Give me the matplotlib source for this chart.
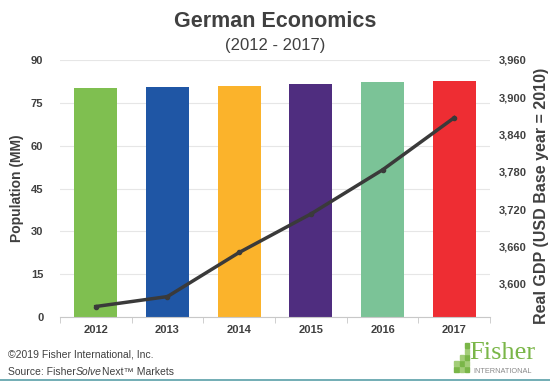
import matplotlib.pyplot as plt
import matplotlib.patches as mpatches
import numpy as np

years = ['2012', '2013', '2014', '2015', '2016', '2017']
population = [80.2, 80.4, 80.9, 81.5, 82.3, 82.7]
gdp = [3563, 3579, 3650, 3712, 3783, 3867]
bar_colors = ['#7fbf50', '#1f56a5', '#fbb32b', '#4f2d7f', '#7bc397', '#ee2d33']

plt.rcParams['font.family'] = ['Liberation Sans', 'DejaVu Sans']
txt = '#404040'

fig = plt.figure(figsize=(5.5, 3.82), dpi=100)
ax = fig.add_axes([0.109, 0.170, 0.782, 0.673])
x = np.arange(len(years))
ax.bar(x, population, width=0.6, color=bar_colors, zorder=2)
ax.set_ylim(0, 90)
ax.set_yticks(range(0, 91, 15))
ax.set_xlim(-0.5, 5.5)
ax.set_xticks(x)
ax.set_xticklabels(years)
ax.set_xticks(np.arange(-0.5, 6, 1), minor=True)
ax.tick_params(axis='x', which='major', length=0, pad=6)
ax.tick_params(axis='x', which='minor', length=4, color='#c8c8c8')
ax.tick_params(axis='y', length=0, pad=12)
ax.yaxis.grid(True, color='#e6e6e6', linewidth=0.8, zorder=0)
for s in ['top', 'left', 'right']:
    ax.spines[s].set_visible(False)
ax.spines['bottom'].set_color('#c8c8c8')
for lab in ax.get_xticklabels() + ax.get_yticklabels():
    lab.set_fontweight('bold')
    lab.set_fontsize(8)
    lab.set_color(txt)
ax.set_ylabel('Population (MM)', fontsize=10, fontweight='bold', color=txt)
ax.yaxis.set_label_coords(-0.084, 0.5)

ax2 = ax.twinx()
ax2.plot(x, gdp, color='#3a3a3a', linewidth=2.5, marker='o', markersize=3, zorder=3)
ax2.set_ylim(3546, 3960)
ax2.set_yticks(range(3600, 3961, 60))
ax2.set_yticklabels(['{:,}'.format(v) for v in range(3600, 3961, 60)])
ax2.tick_params(axis='y', length=0, pad=6)
for s in ['top', 'left', 'right', 'bottom']:
    ax2.spines[s].set_visible(False)
for lab in ax2.get_yticklabels():
    lab.set_fontweight('bold')
    lab.set_fontsize(8)
    lab.set_color(txt)
ax2.set_ylabel('Real GDP (USD Base year = 2010)', fontsize=11.5, fontweight='bold',
               color=txt)
ax2.yaxis.set_label_coords(1.103, 0.47)

fig.text(0.5, 0.945, 'German Economics', ha='center', va='center',
         fontsize=15.5, fontweight='bold', color=txt)
fig.text(0.5, 0.882, '(2012 - 2017)', ha='center', va='center', fontsize=12, color=txt)

fig.text(0.014, 0.072, '\u00a92019 Fisher International, Inc.', fontsize=7.5,
         color=txt, va='center')
t = fig.text(0.014, 0.027, 'Source: Fisher', fontsize=7.5, color=txt, va='center')
fig.canvas.draw()
x1 = t.get_window_extent().x1 / fig.bbox.width
t2 = fig.text(x1, 0.027, 'Solve', fontsize=7.5, color=txt, va='center', style='italic')
fig.canvas.draw()
x2 = t2.get_window_extent().x1 / fig.bbox.width
fig.text(x2 + 0.002, 0.027, 'Next\u2122 Markets', fontsize=7.5, color=txt, va='center')

# logo
green = '#7ab648'
cells = [(0, 0), (0, 1), (1, 0), (1, 1), (1, 2), (2, 0), (2, 1), (2, 2), (2, 3), (2, 4)]
for cx, cy in cells:
    fig.patches.append(mpatches.Rectangle((0.826 + cx * 0.0095, 0.026 + cy * 0.0158),
                                          0.0082, 0.0138, transform=fig.transFigure,
                                          color=green if (cx + cy) % 2 == 0 else '#a3cd78'))
fig.text(0.853, 0.076, 'Fisher', fontsize=19, color=green, family='Liberation Serif',
         va='center')
fig.text(0.86, 0.028, 'INTERNATIONAL', fontsize=5.3, color='#8a8a8a', va='center')
fig.add_artist(plt.Line2D([0, 1], [0.005, 0.005], color='#5aa0a8', linewidth=1.2,
                          transform=fig.transFigure))

fig.savefig('out.png', dpi=100)
